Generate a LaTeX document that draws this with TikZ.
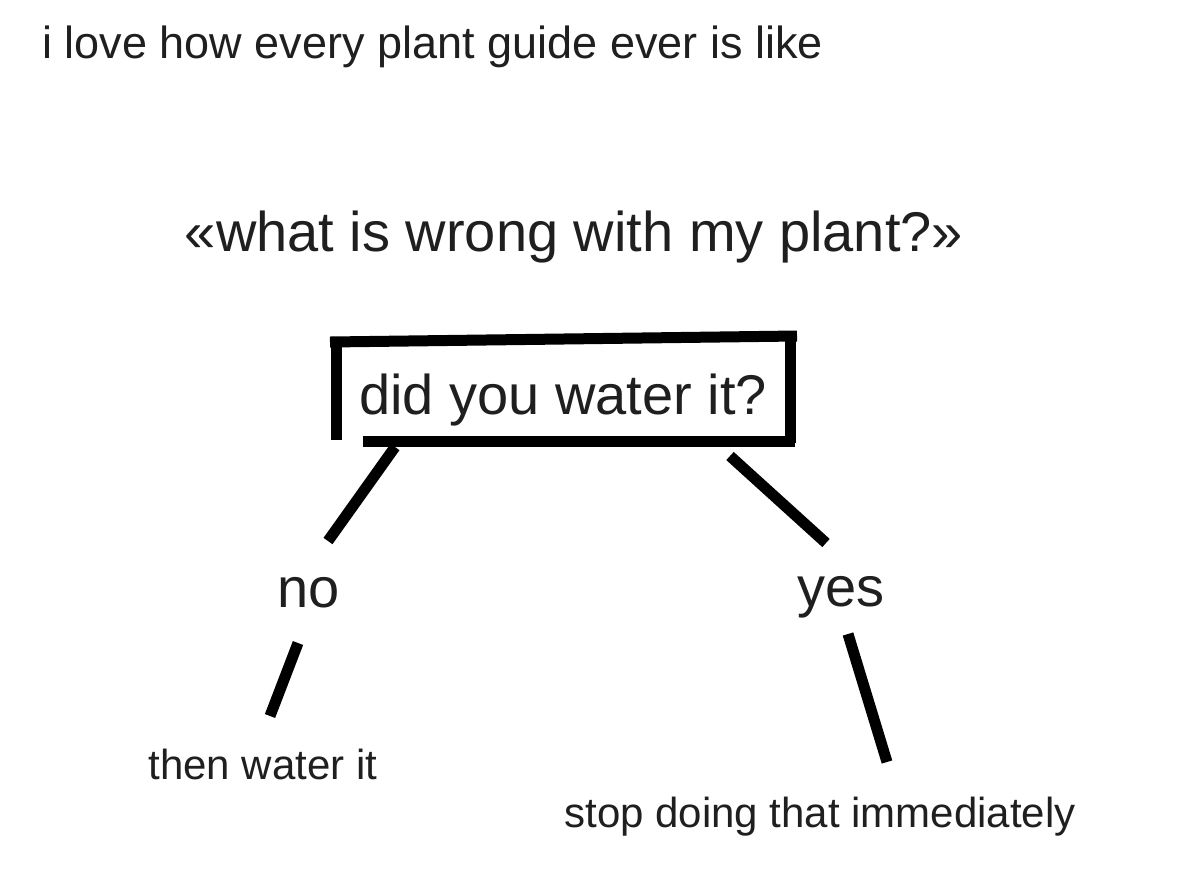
\documentclass[tikz,border=0pt]{standalone}
\usepackage{fontspec}
\setmainfont{Liberation Sans}
\begin{document}
\begin{tikzpicture}[x=0.5pt, y=-0.5pt]
\tikzset{stroke/.style={line width=5.5pt, black},
  txt/.style={inner sep=0pt, anchor=base, text=black!88},
  big/.style={font=\fontsize{28}{34}\selectfont},
  small/.style={font=\fontsize{21}{25}\selectfont}}
\useasboundingbox (0,0) rectangle (1179,890);
% ---------- heading ----------
\node[txt, anchor=base west, font=\fontsize{22.5}{27}\selectfont] (intro) at (42,58) {i love how every plant guide ever is like};
\node[txt, big] (title) at (574,251) {«what is wrong with my plant?»};
% ---------- the question, in a rough box ----------
\node[txt, big] (q) at (563,414) {did you water it?};
\coordinate (tl) at (330,342); \coordinate (tr) at (797,336);
\draw[stroke] (tl) -- (tr);
\draw[stroke] (336,342) -- (336,440);
\draw[stroke] (790,336) -- (790,443);
\draw[stroke] (363,441) -- (795,441);
% ---------- answers ----------
\node[txt, big] (no) at (309,607) {no};
\node[txt, big] (yes) at (841,606) {yes};
\node[txt, small] (then) at (263,779) {then water it};
\node[txt, small] (stop) at (820,827) {stop doing that immediately};
% the strokes between them
\coordinate (qL) at (395,447); \coordinate (noT) at (328,541);
\coordinate (qR) at (730,456); \coordinate (yesT) at (826,543);
\coordinate (noB) at (298,643); \coordinate (thenT) at (270,716);
\coordinate (yesB) at (848,634); \coordinate (stopT) at (887,762);
\foreach \a/\b in {qL/noT, qR/yesT, noB/thenT, yesB/stopT}
  \draw[stroke] (\a) -- (\b);
\end{tikzpicture}
\end{document}
